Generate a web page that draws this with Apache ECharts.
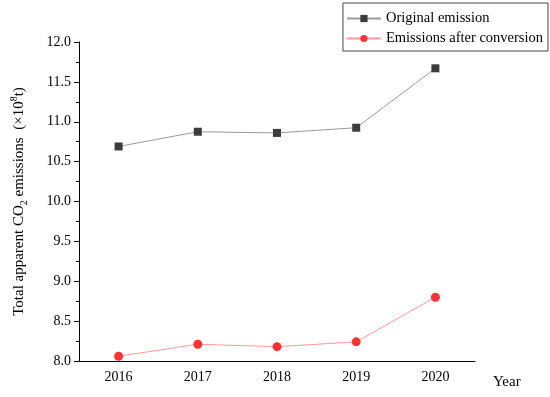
<!DOCTYPE html>
<html><head><meta charset="utf-8">
<script src="https://cdn.jsdelivr.net/npm/echarts@6/dist/echarts.min.js"></script>
<style>html,body{margin:0;padding:0;background:#fff}#c{width:550px;height:397px}</style>
</head><body><div id="c"></div>
<script>
var years = ['2016', '2017', '2018', '2019', '2020'];
var originalEmission = [10.69, 10.875, 10.86, 10.925, 11.67];
var afterConversion = [8.06, 8.21, 8.18, 8.24, 8.80];
var seriesNames = ['Original emission', 'Emissions after conversion'];

var FONT = "'Liberation Serif', 'Times New Roman', serif";
var chart = echarts.init(document.getElementById('c'));
chart.setOption({
  animation: false,
  backgroundColor: '#fff',
  textStyle: { fontFamily: FONT },
  grid: { left: 79, right: 75, top: 42, bottom: 36, containLabel: false, outerBoundsMode: 'none' },
  legend: {
    orient: 'vertical', right: 2, top: 3,
    padding: [8, 5, 5, 3], itemGap: 5,
    itemWidth: 34, itemHeight: 9,
    borderColor: '#444', borderWidth: 1, backgroundColor: '#fff',
    textStyle: { fontFamily: FONT, fontSize: 14.5, color: '#000' },
    data: seriesNames
  },
  xAxis: [{
    type: 'category', data: years, boundaryGap: true, position: 'bottom',
    name: 'Year', nameLocation: 'end', nameGap: 18,
    nameTextStyle: { fontFamily: FONT, fontSize: 15, color: '#000', verticalAlign: 'top', padding: [14, 0, 0, 0] },
    axisLine: { lineStyle: { color: '#000', width: 1 } },
    axisTick: { alignWithLabel: true, length: 5, lineStyle: { color: '#000' } },
    axisLabel: { fontFamily: FONT, fontSize: 14, color: '#000', margin: 9 },
    splitLine: { show: false }
  }, {
    type: 'category', data: years, boundaryGap: true, position: 'bottom',
    axisLine: { show: false },
    axisTick: { alignWithLabel: false, length: 3, lineStyle: { color: '#000' } },
    axisLabel: { show: false },
    splitLine: { show: false }
  }],
  yAxis: {
    type: 'value', min: 8, max: 12, interval: 0.5,
    name: 'Total apparent CO{sub|2} emissions  (×10{sup|8}t)',
    nameLocation: 'middle', nameGap: 50,
    nameTextStyle: {
      fontFamily: FONT, fontSize: 15, color: '#000', lineHeight: 20,
      rich: {
        sub: { fontFamily: FONT, fontSize: 10, color: '#000', verticalAlign: 'bottom', lineHeight: 12 },
        sup: { fontFamily: FONT, fontSize: 10, color: '#000', verticalAlign: 'top', lineHeight: 12 }
      }
    },
    axisLine: { show: true, lineStyle: { color: '#000', width: 1 } },
    axisTick: { show: true, length: 5, lineStyle: { color: '#000' } },
    minorTick: { show: true, splitNumber: 2, length: 3, lineStyle: { color: '#000' } },
    axisLabel: { fontFamily: FONT, fontSize: 14, color: '#000', margin: 8, formatter: function (v) { return v.toFixed(1); } },
    splitLine: { show: false }
  },
  series: [{
    name: seriesNames[0], type: 'line', data: originalEmission,
    symbol: 'rect', symbolSize: 8,
    itemStyle: { color: '#3c3c3c' },
    lineStyle: { color: '#9a9a9a', width: 1 }
  }, {
    name: seriesNames[1], type: 'line', data: afterConversion,
    symbol: 'circle', symbolSize: 9,
    itemStyle: { color: '#ff3333' },
    lineStyle: { color: '#ff9a9a', width: 1 }
  }]
});
</script></body></html>
